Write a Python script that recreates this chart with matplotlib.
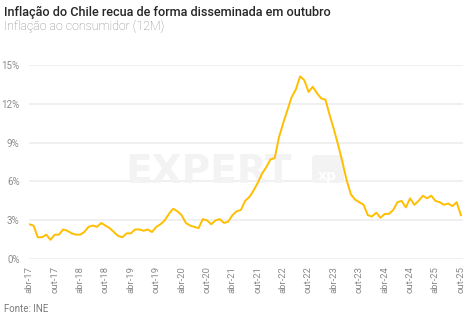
import matplotlib
matplotlib.use("Agg")
import matplotlib.pyplot as plt
import matplotlib.transforms as mtransforms
from matplotlib.patches import FancyBboxPatch
import numpy as np

# Chile - inflação ao consumidor 12M (%), abr/2017 a out/2025
ipc_2017 = [2.7, 2.6, 1.7, 1.7, 1.9, 1.5, 1.9, 1.9, 2.3]
ipc_2018 = [2.2, 2.0, 1.9, 1.9, 2.1, 2.5, 2.6, 2.5, 2.8, 2.6, 2.4, 2.1]
ipc_2019 = [1.8, 1.7, 2.0, 2.0, 2.3, 2.3, 2.2, 2.3, 2.1, 2.5, 2.7, 3.0]
ipc_2020 = [3.5, 3.9, 3.7, 3.4, 2.8, 2.6, 2.5, 2.4, 3.1, 3.0, 2.7, 3.0]
ipc_2021 = [3.1, 2.8, 2.9, 3.4, 3.7, 3.8, 4.5, 4.8, 5.3, 5.9, 6.6, 7.1]
ipc_2022 = [7.7, 7.8, 9.4, 10.5, 11.5, 12.5, 13.1, 14.1, 13.8, 12.9, 13.3, 12.8]
ipc_2023 = [12.4, 12.3, 11.1, 10.0, 8.8, 7.5, 6.1, 5.0, 4.6, 4.4, 4.2, 3.4]
ipc_2024 = [3.3, 3.6, 3.2, 3.5, 3.5, 3.8, 4.4, 4.5, 4.0, 4.7, 4.2, 4.5]
ipc_2025 = [4.9, 4.7, 4.9, 4.5, 4.4, 4.2, 4.3, 4.1, 4.4, 3.4]

ipc = ipc_2017 + ipc_2018 + ipc_2019 + ipc_2020 + ipc_2021 + ipc_2022 + ipc_2023 + ipc_2024 + ipc_2025

tick_labels = ["abr-17", "out-17", "abr-18", "out-18", "abr-19", "out-19",
               "abr-20", "out-20", "abr-21", "out-21", "abr-22", "out-22",
               "abr-23", "out-23", "abr-24", "out-24", "abr-25", "out-25"]
y_ticks = [0, 3, 6, 9, 12, 15]

W, H = 472, 327
fig = plt.figure(figsize=(W / 100, H / 100), dpi=100)
ax = fig.add_axes([29.3 / W, 1 - 259.3 / H, (463 - 29.3) / W, (259.3 - 64.7) / H])

x = np.arange(len(ipc))
ax.plot(x, ipc, color="#FFBE00", lw=1.4, zorder=3, solid_joinstyle="round")

ax.set_xlim(0, 102.5)
ax.set_ylim(0, 15)
ax.set_yticks(y_ticks)
ax.set_yticklabels([f"{v}%" for v in y_ticks], fontsize=7, color="#8a8a8a", family="Roboto")
ax.set_xticks(np.arange(0, len(ipc), 6))
ax.set_xticklabels(tick_labels, rotation=90, fontsize=6.8, color="#8a8a8a", family="Roboto")
ax.tick_params(axis="both", length=0)
ax.tick_params(axis="y", pad=7)
ax.tick_params(axis="x", pad=5)
ax.grid(axis="y", color="#efefef", lw=1.3)
ax.set_axisbelow(True)
for s in ax.spines.values():
    s.set_visible(False)

# marca d'agua
ax.text(125 / W, 1 - 183 / H, "EXPERT", transform=fig.transFigure, fontsize=28,
        fontweight="bold", color="#f3f3f3", family="DejaVu Sans", ha="left", va="baseline",
        zorder=1, clip_on=False)
box = FancyBboxPatch((312, H - 183), 32, 28, boxstyle="round,pad=0,rounding_size=4",
                     transform=mtransforms.IdentityTransform(), facecolor="#f3f3f3",
                     edgecolor="none", zorder=1, clip_on=False)
ax.add_artist(box)
ax.text(318 / W, 1 - 180 / H, "xp", transform=fig.transFigure, fontsize=10,
        fontweight="bold", color="white", family="DejaVu Sans", zorder=1.5, clip_on=False)

fig.text(4 / W, 1 - 12.5 / H, "Inflação do Chile recua de forma disseminada em outubro",
         fontsize=9.1, color="#262626", family="Roboto", fontweight="medium", va="center")
fig.text(4 / W, 1 - 26.5 / H, "Inflação ao consumidor (12M)",
         fontsize=8.9, color="#858585", family="Roboto", fontweight="light", va="center")
fig.text(4 / W, 1 - 309 / H, "Fonte: INE", fontsize=7, color="#7a7a7a", family="Roboto", va="center")

fig.savefig("out.png", dpi=100)
